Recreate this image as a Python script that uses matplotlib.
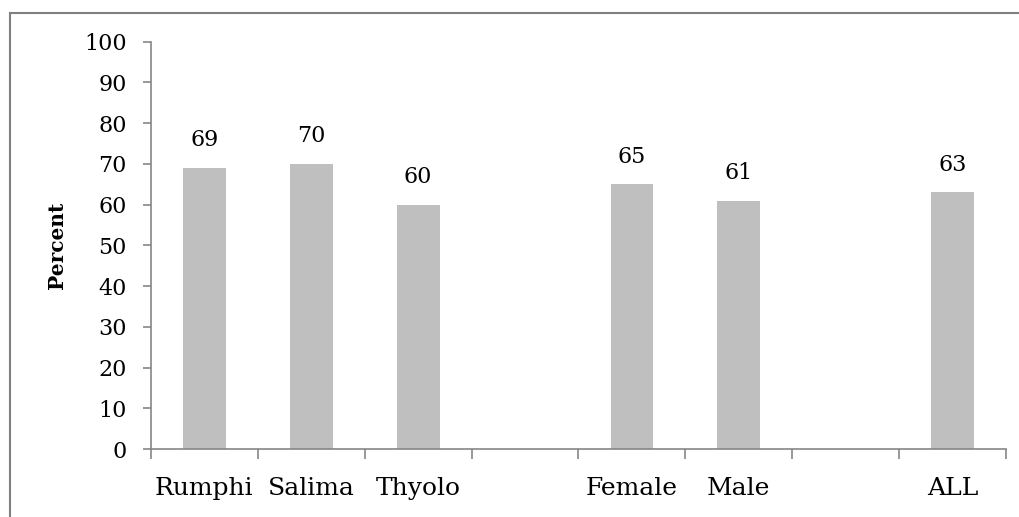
import matplotlib
matplotlib.use("Agg")
import matplotlib.pyplot as plt
from matplotlib.patches import Rectangle
import numpy as np

categories = ["Rumphi", "Salima", "Thyolo", "", "Female", "Male", "", "ALL"]
values = [69, 70, 60, None, 65, 61, None, 63]
yticks = [0, 10, 20, 30, 40, 50, 60, 70, 80, 90, 100]

plt.rcParams['font.family'] = ['DejaVu Serif']

fig = plt.figure(figsize=(10.2, 5.17), dpi=100)
ax = fig.add_axes([151/1020, 1-449/517, (1006-151)/1020, (449-41.7)/517])

# outer border
fig.patches.append(Rectangle((10/1020, -0.1), 1.2, 1-12.5/517+0.1, transform=fig.transFigure,
                             fill=False, edgecolor='#808080', linewidth=1.5))

x = np.arange(len(categories))
bar_x = [xi for xi, v in zip(x, values) if v is not None]
bar_v = [v for v in values if v is not None]
ax.bar(bar_x, bar_v, width=0.4, color='#BFBFBF', zorder=2)
for xi, v in zip(bar_x, bar_v):
    ax.annotate(str(v), (xi, v), xytext=(0, 12), textcoords='offset points',
                ha='center', va='bottom', fontsize=16)

ax.set_xlim(-0.5, len(categories) - 0.5)
ax.set_ylim(0, 100)
ax.set_yticks(yticks)
ax.tick_params(axis='y', labelsize=16, length=6, color='#868686', width=1.2, pad=11.5)

ax.set_xticks(np.arange(-0.5, len(categories), 1.0))
ax.set_xticklabels([])
ax.tick_params(axis='x', which='major', length=7, color='#868686', width=1.2)
ax.set_xticks(x, minor=True)
ax.set_xticklabels(categories, minor=True, fontsize=18)
ax.tick_params(axis='x', which='minor', length=0, pad=20)

for s in ['top', 'right']:
    ax.spines[s].set_visible(False)
for s in ['left', 'bottom']:
    ax.spines[s].set_color('#868686')
    ax.spines[s].set_linewidth(1.2)

ax.set_ylabel('Percent', fontsize=14.5, fontweight='bold', labelpad=12)

fig.savefig('out.png', dpi=100)
